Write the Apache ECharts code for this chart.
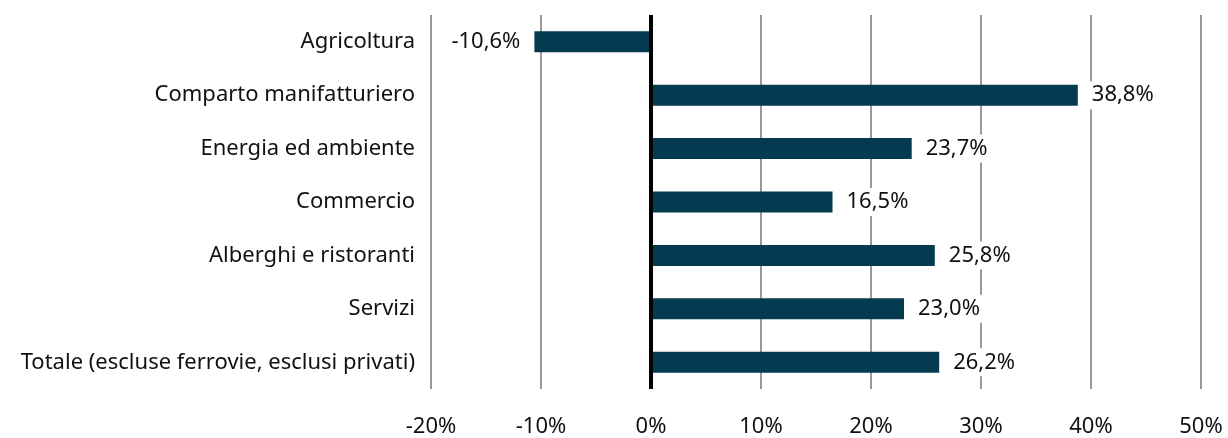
<!DOCTYPE html>
<html><head><meta charset="utf-8">
<script src="https://cdn.jsdelivr.net/npm/echarts@6/dist/echarts.min.js"></script>
<style>html,body{margin:0;padding:0;background:#fff}#c{width:1228px;height:438px}</style>
</head><body><div id="c"></div>
<script>
const categories = ["Agricoltura","Comparto manifatturiero","Energia ed ambiente","Commercio","Alberghi e ristoranti","Servizi","Totale (escluse ferrovie, esclusi privati)"];
const values = [-10.6, 38.8, 23.7, 16.5, 25.8, 23.0, 26.2];
const xTicks = [-20, -10, 0, 10, 20, 30, 40, 50];

const font = '"Noto Sans", sans-serif';
const chart = echarts.init(document.getElementById('c'));
chart.setOption({
  animation: false,
  backgroundColor: '#fff',
  grid: {left: 431, right: 27, top: 15, bottom: 44},
  xAxis: {
    type: 'value', min: xTicks[0], max: xTicks[xTicks.length-1], interval: 10,
    axisLine: {show: false}, axisTick: {show: false},
    splitLine: {show: true, lineStyle: {color: '#999', width: 2}},
    axisLabel: {margin: 27, color: '#111', fontSize: 22, fontFamily: font,
      formatter: v => v + '%'}
  },
  yAxis: {
    type: 'category', data: categories, inverse: true,
    axisLine: {show: false}, axisTick: {show: false},
    axisLabel: {margin: 16, color: '#111', fontSize: 22, fontFamily: font}
  },
  series: [{
    type: 'bar', barWidth: 21,
    itemStyle: {color: '#053b51'},
    data: values.map(v => ({value: v, label: {position: v < 0 ? 'left' : 'right'}})),
    label: {show: true, distance: 10, color: '#111', fontSize: 22, fontFamily: font,
      backgroundColor: '#fff', padding: [3, 4],
      formatter: p => p.value.toFixed(1).replace('.', ',') + '%'},
    markLine: {silent: true, symbol: 'none', label: {show: false},
      lineStyle: {color: '#000', width: 4, type: 'solid'},
      data: [{xAxis: 0}]}
  }]
});
</script></body></html>
